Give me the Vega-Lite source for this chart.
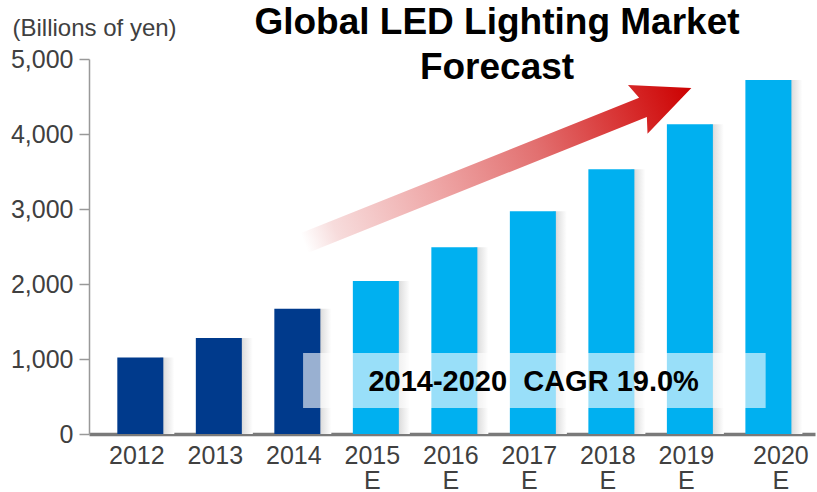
{
  "$schema": "https://vega.github.io/schema/vega-lite/v6.json",
  "width": 726,
  "height": 375,
  "autosize": "none",
  "padding": {"left": 89, "top": 59, "right": 2, "bottom": 58},
  "background": "white",
  "title": {
    "text": ["Global LED Lighting Market", "Forecast"],
    "font": "Liberation Sans",
    "fontSize": 37,
    "fontWeight": "bold",
    "color": "#000000",
    "anchor": "middle",
    "frame": "group",
    "dx": 45,
    "lineHeight": 45,
    "baseline": "alphabetic",
    "offset": -100
  },
  "config": {"view": {"stroke": null}, "axis": {"grid": false}},
  "data": {
    "values": [
      {"year": 2012, "value": 1020, "type": "Actual"},
      {"year": 2013, "value": 1280, "type": "Actual"},
      {"year": 2014, "value": 1670, "type": "Actual"},
      {"year": 2015, "value": 2040, "type": "Forecast"},
      {"year": 2016, "value": 2490, "type": "Forecast"},
      {"year": 2017, "value": 2970, "type": "Forecast"},
      {"year": 2018, "value": 3530, "type": "Forecast"},
      {"year": 2019, "value": 4130, "type": "Forecast"},
      {"year": 2020, "value": 4720, "type": "Forecast"}
    ]
  },
  "encoding": {
    "x": {
      "field": "year",
      "type": "quantitative",
      "scale": {"domain": [2011.41, 2020.53], "nice": false, "zero": false},
      "axis": {
        "title": null,
        "values": [2012, 2013, 2014, 2015, 2016, 2017, 2018, 2019, 2020],
        "format": "d",
        "ticks": false,
        "domainColor": "#7a7a7a",
        "domainWidth": 3.5,
        "labelFont": "Liberation Sans",
        "labelFontSize": 25,
        "labelColor": "#404040",
        "labelPadding": 9,
        "labelLineHeight": 25,
        "labelFlush": false,
        "labelOverlap": false,
        "labelOffset": {"condition": {"test": "datum.value == 2020", "value": 12}, "value": -4},
        "labelExpr": "datum.value >= 2015 ? [datum.label, 'E'] : datum.label"
      }
    },
    "y": {
      "field": "value",
      "type": "quantitative",
      "scale": {"domain": [0, 5000], "nice": false},
      "axis": {
        "title": "(Billions of yen)",
        "titleAngle": 0,
        "titleAlign": "left",
        "titleBaseline": "alphabetic",
        "titleX": -77,
        "titleY": -24,
        "titleFont": "Liberation Sans",
        "titleFontSize": 24,
        "titleFontWeight": "normal",
        "titleColor": "#404040",
        "values": [0, 1000, 2000, 3000, 4000, 5000],
        "format": ",d",
        "labelFont": "Liberation Sans",
        "labelFontSize": 25,
        "labelColor": "#404040",
        "labelPadding": 6,
        "tickSize": 10,
        "tickColor": "#999999",
        "tickWidth": 1.5,
        "domainColor": "#999999",
        "domainWidth": 1.5
      }
    }
  },
  "layer": [
    {
      "mark": {
        "type": "bar",
        "width": 14,
        "xOffset": 27,
        "fill": {
          "gradient": "linear",
          "x1": 0, "y1": 0, "x2": 1, "y2": 0,
          "stops": [
            {"offset": 0, "color": "#c8c8c8"},
            {"offset": 0.35, "color": "#e2e2e2"},
            {"offset": 1, "color": "#ffffff"}
          ]
        }
      }
    },
    {
      "mark": {"type": "bar", "width": 46},
      "encoding": {
        "color": {
          "field": "type",
          "type": "nominal",
          "scale": {"domain": ["Actual", "Forecast"], "range": ["#003a8c", "#00b0f0"]},
          "legend": null
        }
      }
    },
    {
      "transform": [{"filter": "datum.year == 2012"}],
      "mark": {"type": "rect", "color": "#ffffff", "fillOpacity": 0.6, "opacity": 1},
      "encoding": {
        "x": {"datum": 2014.073},
        "x2": {"datum": 2019.965},
        "y": {"datum": 1080},
        "y2": {"datum": 347}
      }
    },
    {
      "transform": [{"filter": "datum.year == 2012"}],
      "mark": {
        "type": "text",
        "text": "2014-2020\u00a0 CAGR 19.0%",
        "font": "Liberation Sans",
        "fontSize": 29,
        "fontWeight": "bold",
        "color": "#000000",
        "align": "center",
        "baseline": "middle"
      },
      "encoding": {
        "x": {"datum": 2017.01},
        "y": {"datum": 700}
      }
    },
    {
      "transform": [{"filter": "datum.year == 2012"}],
      "mark": {
        "type": "point",
        "shape": "M-1,-0.05L0.75,-0.05L0.723,-0.126L1,0L0.723,0.126L0.75,0.05L-1,0.05Z",
        "size": 173800,
        "angle": 338.17,
        "filled": true,
        "opacity": 1,
        "strokeWidth": 0,
        "fill": {
          "gradient": "linear",
          "x1": 0, "y1": 0, "x2": 1, "y2": 0,
          "stops": [
            {"offset": 0, "color": "#ffffff"},
            {"offset": 0.08, "color": "#f7dcdc"},
            {"offset": 0.35, "color": "#eea5a5"},
            {"offset": 0.6, "color": "#e27070"},
            {"offset": 0.82, "color": "#d83232"},
            {"offset": 1, "color": "#cc0000"}
          ]
        }
      },
      "encoding": {
        "x": {"datum": 2016.554},
        "y": {"datum": 3580}
      }
    }
  ]
}
